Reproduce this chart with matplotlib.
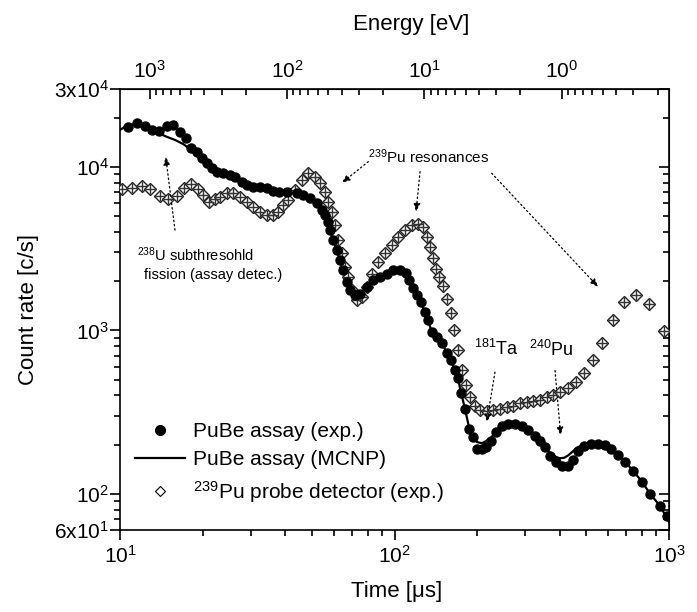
import numpy as np
import matplotlib
matplotlib.use('Agg')
import matplotlib.pyplot as plt
from matplotlib.ticker import FixedLocator, FixedFormatter, LogLocator, NullFormatter
from matplotlib.lines import Line2D

plt.rcParams['font.family'] = ['Liberation Sans', 'DejaVu Sans']
plt.rcParams['mathtext.fontset'] = 'custom'
plt.rcParams['mathtext.rm'] = 'Liberation Sans'
plt.rcParams['mathtext.it'] = 'Liberation Sans:italic'
plt.rcParams['mathtext.bf'] = 'Liberation Sans:bold'
plt.rcParams['mathtext.default'] = 'regular'

# PuBe assay detector, measured (time in us, count rate in c/s)
assay_t = [10.72, 11.5, 12.33, 13.12, 13.91, 14.80, 15.56, 16.55, 17.40, 18.15, 19.03, 19.85, 20.80, 21.58,
           22.50, 23.78, 25.16, 26.24, 27.76, 28.94, 30.59, 32.36, 34.22, 36.18, 38.05,
           40.49, 44.04, 46.54, 49.22, 52.07, 54.30, 55.82, 57.39, 58.21, 59.84, 61.57, 63.31, 65.09, 66.97,
           68.85, 71.79, 74.87, 79.19, 83.71, 88.55, 93.67, 99.0,
           104.7, 110.1, 112.9, 116.8, 120.8, 124.9, 129.1, 132.4, 137.0, 142.8, 148.9, 155.4, 160.6, 166.1,
           170.3, 174.7, 180.6, 186.8,
           193.2, 199.8, 208.4, 215.4, 224.6, 234.3, 246.4, 259.1, 274.8, 291.4, 306.5, 325.0, 338.9, 353.4,
           368.6, 387.6, 407.6, 428.6, 447.0, 466.1, 490.1, 519.7, 551.1, 584.6, 614.8, 651.9, 691.4, 739.5,
           797.5, 852.7, 927.3, 983.4]
assay_c = [17660, 18540, 17910, 16870, 16700, 17850, 18110, 16470, 15000, 13140, 12410, 11400, 10540, 9820,
           9360, 9150, 8930, 8650, 8125, 7755, 7570, 7508, 7400, 7125, 6995,
           7055, 6900, 6735, 6430, 5990, 5450, 5075, 4618, 4108, 3566, 3096, 2688, 2334, 1978,
           1760, 1639, 1680, 1843, 2026, 2123, 2228, 2334,
           2334, 2237, 2026, 1810, 1639, 1485, 1290, 1152, 972, 906, 832, 723, 655, 568,
           508, 416, 332, 250,
           221, 189, 189, 192, 211, 240, 261, 269, 269, 261, 244, 227, 211, 194,
           171, 157, 148.5, 148.5, 161.7, 183.5, 197, 202.6, 202.6, 199.8, 188.8, 173.5, 157.1, 138.4,
           118.5, 100, 84.4, 73.3]

# PuBe assay, MCNP simulation
mcnp_t = [10.0, 10.43, 10.87, 11.53, 12.33, 13.19, 13.99, 14.83, 15.86, 16.96, 17.99, 19.08, 20.23, 21.46,
          22.5, 23.78, 25.16, 26.24, 27.76, 28.94, 30.59, 32.36, 34.22, 36.18, 38.05,
          40.49, 44.04, 46.54, 49.22, 52.07, 54.3, 55.82, 57.39, 58.21, 59.84, 61.57, 63.31, 65.09, 66.97,
          68.85, 71.79, 74.87, 79.19, 83.71, 88.55, 93.67, 99.0,
          104.7, 110.1, 112.9, 116.8, 120.8, 124.9, 129.1, 132.4, 137.0, 142.8, 148.9, 155.4, 160.6, 166.1,
          170.3, 174.7, 180.6, 186.8,
          193.2, 199.8, 208.4, 215.4, 224.6, 234.3, 246.4, 259.1, 274.8, 291.4, 306.5, 325.0, 338.9, 353.4,
          368.6, 387.6,
          400.0, 415.0, 430.0, 447.0, 466.1, 490.1, 519.7, 551.1, 584.6, 614.8, 651.9, 691.4, 739.5, 797.5,
          852.7, 927.3, 1000.0]
mcnp_c = [16870, 17600, 18110, 18110, 17600, 16640, 15940, 15280, 14640, 13840, 12890, 11680, 10730, 9860,
          9360, 9150, 8930, 8650, 8125, 7755, 7570, 7508, 7400, 7125, 6995,
          7055, 6900, 6735, 6430, 5990, 5450, 5075, 4618, 4108, 3566, 3096, 2688, 2334, 1978,
          1760, 1639, 1680, 1843, 2026, 2123, 2228, 2334,
          2334, 2237, 2026, 1810, 1639, 1485, 1290, 1152, 972, 906, 832, 723, 655, 568,
          508, 416, 332, 255,
          225, 207, 204, 210, 220, 240, 261, 269, 269, 261, 244, 227, 211, 196,
          178, 168,
          165, 166, 172, 182, 193, 199, 202.6, 202.6, 198, 188.8, 173.5, 157.1, 138.4, 118.5,
          100, 84.4, 67.3]

# 239Pu probe detector, measured
probe_t = [10.14, 11.03, 12.0, 12.86, 13.99, 15.0, 16.09, 17.15, 18.10, 19.19, 20.12, 21.15, 22.19, 23.14,
           24.47, 25.86, 27.36, 28.94, 30.59, 32.36, 34.22, 36.18,
           37.74, 39.26, 41.04, 43.42, 45.92, 48.53, 51.33, 53.54, 55.82, 57.39, 59.05, 60.71, 62.42, 64.21,
           66.02, 67.87, 69.83, 72.82,
           75.94, 79.19, 82.58, 87.30, 92.33, 97.68, 103.2, 109.2, 115.5, 122.1,
           127.3, 131.0, 134.7, 137.8, 141.7, 145.6, 150.6, 155.7, 160.6, 165.1, 170.8, 175.7, 182.2, 188.4,
           196.5, 204.9,
           216.7, 229.1, 242.3, 256.2, 270.9, 286.5, 303.0, 320.3, 338.9, 358.5, 378.8, 400.8, 427.5, 458.4,
           490.1, 527.2, 570.0, 623.6, 685.5, 758.3, 847.6, 959.0]
probe_c = [7298, 7464, 7645, 7298, 6667, 6363, 6640, 7400, 7865, 7298, 6735, 6126, 6336, 6573,
           6956, 6898, 6573, 6126, 5707, 5318, 5075, 5075,
           5318, 5848, 6273, 7224, 8323, 9150, 8720, 7943, 7055, 6126, 5318, 4409, 3566, 2955,
           2445, 2123, 1760, 1528,
           1601, 1843, 2228, 2624, 2955, 3322, 3736, 4108, 4409, 4472,
           4285, 3736, 3243, 2754, 2390, 2123, 1862, 1550, 1284, 1000, 761.5, 574, 464.5, 389.8,
           346.7, 326.3,
           319.9, 326.3, 330.9, 338.4, 346.7, 358.1, 363.2, 369.4, 377.3, 389.8, 404.9, 418.3, 445.2, 481.9,
           547, 654.6, 840.6, 1152, 1492, 1656, 1458, 990]

K_FLIGHT = 165000.0  # eV*us^2, E = K / t^2 for the flight path


def t2e(t):
    t = np.clip(np.asarray(t, dtype=float), 1e-9, None)
    return K_FLIGHT / t ** 2


def e2t(e):
    e = np.clip(np.asarray(e, dtype=float), 1e-12, None)
    return np.sqrt(K_FLIGHT / e)


fig = plt.figure(figsize=(6.97, 6.12), dpi=100)
ax = fig.add_axes([120 / 697, 82 / 612, 549 / 697, 441 / 612])

ax.plot(mcnp_t, mcnp_c, color='k', lw=1.6, zorder=2)
ax.plot(probe_t, probe_c, ls='none', marker='D', ms=6, mfc='white', mec='#222222', mew=1.0, zorder=3)
ax.plot(probe_t, probe_c, ls='none', marker='+', ms=6.5, mec='#333333', mew=1.0, zorder=4)
ax.plot(assay_t, assay_c, ls='none', marker='o', ms=6.5, mfc='k', mec='k', zorder=5)

ax.set_xscale('log')
ax.set_yscale('log')
ax.set_xlim(10, 1000)
ax.set_ylim(60, 30000)

for s in ax.spines.values():
    s.set_linewidth(1.2)

# bottom axis
ax.xaxis.set_major_locator(FixedLocator([10, 100, 1000]))
ax.xaxis.set_major_formatter(FixedFormatter(['$10^{1}$', '$10^{2}$', '$10^{3}$']))
ax.xaxis.set_minor_locator(LogLocator(base=10, subs=np.arange(2, 10) * 1.0, numticks=20))
ax.xaxis.set_minor_formatter(NullFormatter())
ax.tick_params(axis='x', which='both', direction='out', top=False, bottom=True, labelsize=15, width=1.2)
ax.tick_params(axis='x', which='major', length=7, pad=4)
ax.tick_params(axis='x', which='minor', length=4)

# left axis
yticks = [60, 100, 1000, 10000, 30000]
ylabels = ['6x10$^{1}$', '$10^{2}$', '$10^{3}$', '$10^{4}$', '3x10$^{4}$']
yminor = [70, 80, 90] + list(range(200, 1000, 100)) + list(range(2000, 10000, 1000)) + [20000]
ax.yaxis.set_major_locator(FixedLocator(yticks))
ax.yaxis.set_major_formatter(FixedFormatter(ylabels))
ax.yaxis.set_minor_locator(FixedLocator(yminor))
ax.yaxis.set_minor_formatter(NullFormatter())
ax.tick_params(axis='y', which='both', direction='out', left=True, right=False, labelsize=15, width=1.2)
ax.tick_params(axis='y', which='major', length=7, pad=1)
ax.tick_params(axis='y', which='minor', length=4)

# right axis, ticks inside
ry = ax.secondary_yaxis('right')
ry.yaxis.set_major_locator(FixedLocator(yticks))
ry.yaxis.set_minor_locator(FixedLocator(yminor))
ry.tick_params(which='both', direction='in', labelright=False, width=1.2)
ry.tick_params(which='major', length=7)
ry.tick_params(which='minor', length=4)

# top axis, neutron energy
top = ax.secondary_xaxis('top', functions=(t2e, e2t))
top.xaxis.set_major_locator(FixedLocator([1000, 100, 10, 1]))
top.xaxis.set_major_formatter(FixedFormatter(['$10^{3}$', '$10^{2}$', '$10^{1}$', '$10^{0}$']))
top.xaxis.set_minor_locator(LogLocator(base=10, subs=np.arange(2, 10) * 1.0, numticks=20))
top.xaxis.set_minor_formatter(NullFormatter())
top.tick_params(which='both', direction='in', labelsize=15, width=1.2)
top.tick_params(which='major', length=7, pad=5)
top.tick_params(which='minor', length=4)
top.set_xlabel('Energy [eV]', fontsize=16, labelpad=22)
top.xaxis.label.set_x(0.53)

ax.set_xlabel('Time [\u03bcs]', fontsize=16)
ax.xaxis.set_label_coords(0.503, -0.115)
ax.set_ylabel('Count rate [c/s]', fontsize=16)
ax.yaxis.set_label_coords(-0.147, 0.5)

# annotations
arrow = dict(arrowstyle='-|>,head_length=0.5,head_width=0.2', linestyle=(0, (1.2, 2.2)),
             lw=0.9, color='k', shrinkA=0, shrinkB=0)
ax.text(133.6, 11570, '$^{239}$Pu resonances', fontsize=11, ha='center', va='center')
ax.annotate('', xy=(64.2, 7975), xytext=(80.3, 10780), arrowprops=arrow)
ax.annotate('', xy=(119.8, 5318), xytext=(123.9, 9360), arrowprops=arrow)
ax.annotate('', xy=(552.5, 1843), xytext=(226.0, 9150), arrowprops=arrow)

ax.text(11.5, 2884, '$^{238}$U subthresohld', fontsize=10.5, ha='left', va='center')
ax.text(12.23, 2175, 'fission (assay detec.)', fontsize=10.5, ha='left', va='center')
ax.annotate('', xy=(14.67, 11570), xytext=(15.86, 4108), arrowprops=arrow)

ax.text(234.3, 772, '$^{181}$Ta', fontsize=13, ha='center', va='center')
ax.annotate('', xy=(216.7, 273.7), xytext=(232.3, 555), arrowprops=arrow)
ax.text(373.8, 754, '$^{240}$Pu', fontsize=13, ha='center', va='center')
ax.annotate('', xy=(403.1, 227), xytext=(384.4, 568), arrowprops=arrow)

handles = [
    Line2D([], [], ls='none', marker='o', ms=7, mfc='k', mec='k'),
    Line2D([], [], color='k', lw=1.6),
    Line2D([], [], ls='none', marker='D', ms=5, mfc='white', mec='k', mew=0.8),
]
labels = ['PuBe assay (exp.)', 'PuBe assay (MCNP)', '$^{239}$Pu probe detector (exp.)']
ax.legend(handles, labels, loc='upper left', bbox_to_anchor=(0.027, 0.245), frameon=False, fontsize=15,
          borderpad=0, borderaxespad=0, handlelength=2.4, handletextpad=0.4, labelspacing=0.45)

fig.savefig('out.png', dpi=100)
